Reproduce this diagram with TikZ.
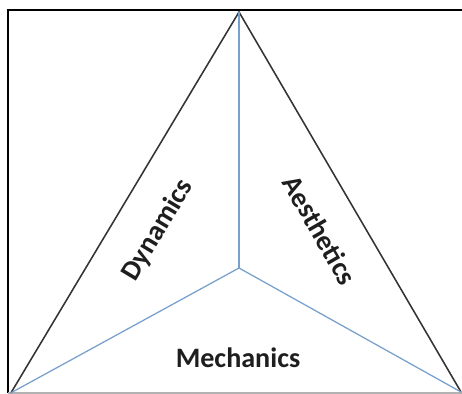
\documentclass[tikz,border=0pt]{standalone}
\usepackage{fontspec}
\setmainfont{Carlito}
\usepackage{xcolor}
\usetikzlibrary{positioning,calc}
\definecolor{mdablue}{RGB}{120,160,205}
\definecolor{mdatext}{RGB}{30,30,30}
\tikzset{
    edge/.style={draw=black!80, line width=1.1pt},
    split/.style={draw=mdablue, line width=0.9pt},
    label/.style={font=\bfseries\fontsize{20}{23}\selectfont, text=mdatext, inner sep=0pt}
}

\begin{document}
\begin{tikzpicture}
    \useasboundingbox (0,0) rectangle (11.55,9.85);
    % Frame
    \draw[black, line width=1.6pt] (0.2,0.03) -- (0.2,9.6) -- (11.55,9.6);
    \draw[black!30, line width=1pt] (0.2,0.03) -- (11.55,0.03);

    % Corners and centre
    \coordinate (top) at (5.975,9.55);
    \coordinate (left) at (0.275,0.03);
    \coordinate (right) at (11.525,0.05);
    \coordinate (mid) at (5.975,3.15);

    % Outer sides
    \draw[edge] (left) -- (top) -- (right);

    % Inner lines
    \draw[split] (mid) -- (top);
    \draw[split] (mid) -- (left);
    \draw[split] (mid) -- (right);

    % Labels
    \node[label, rotate=59] (dyn) at (3.95,4.1) {Dynamics};
    \node[label, rotate=-60] (aes) at (8.0,4.1) {Aesthetics};
    \node[label] (mech) at (5.95,0.9) {Mechanics};
\end{tikzpicture}
\end{document}
